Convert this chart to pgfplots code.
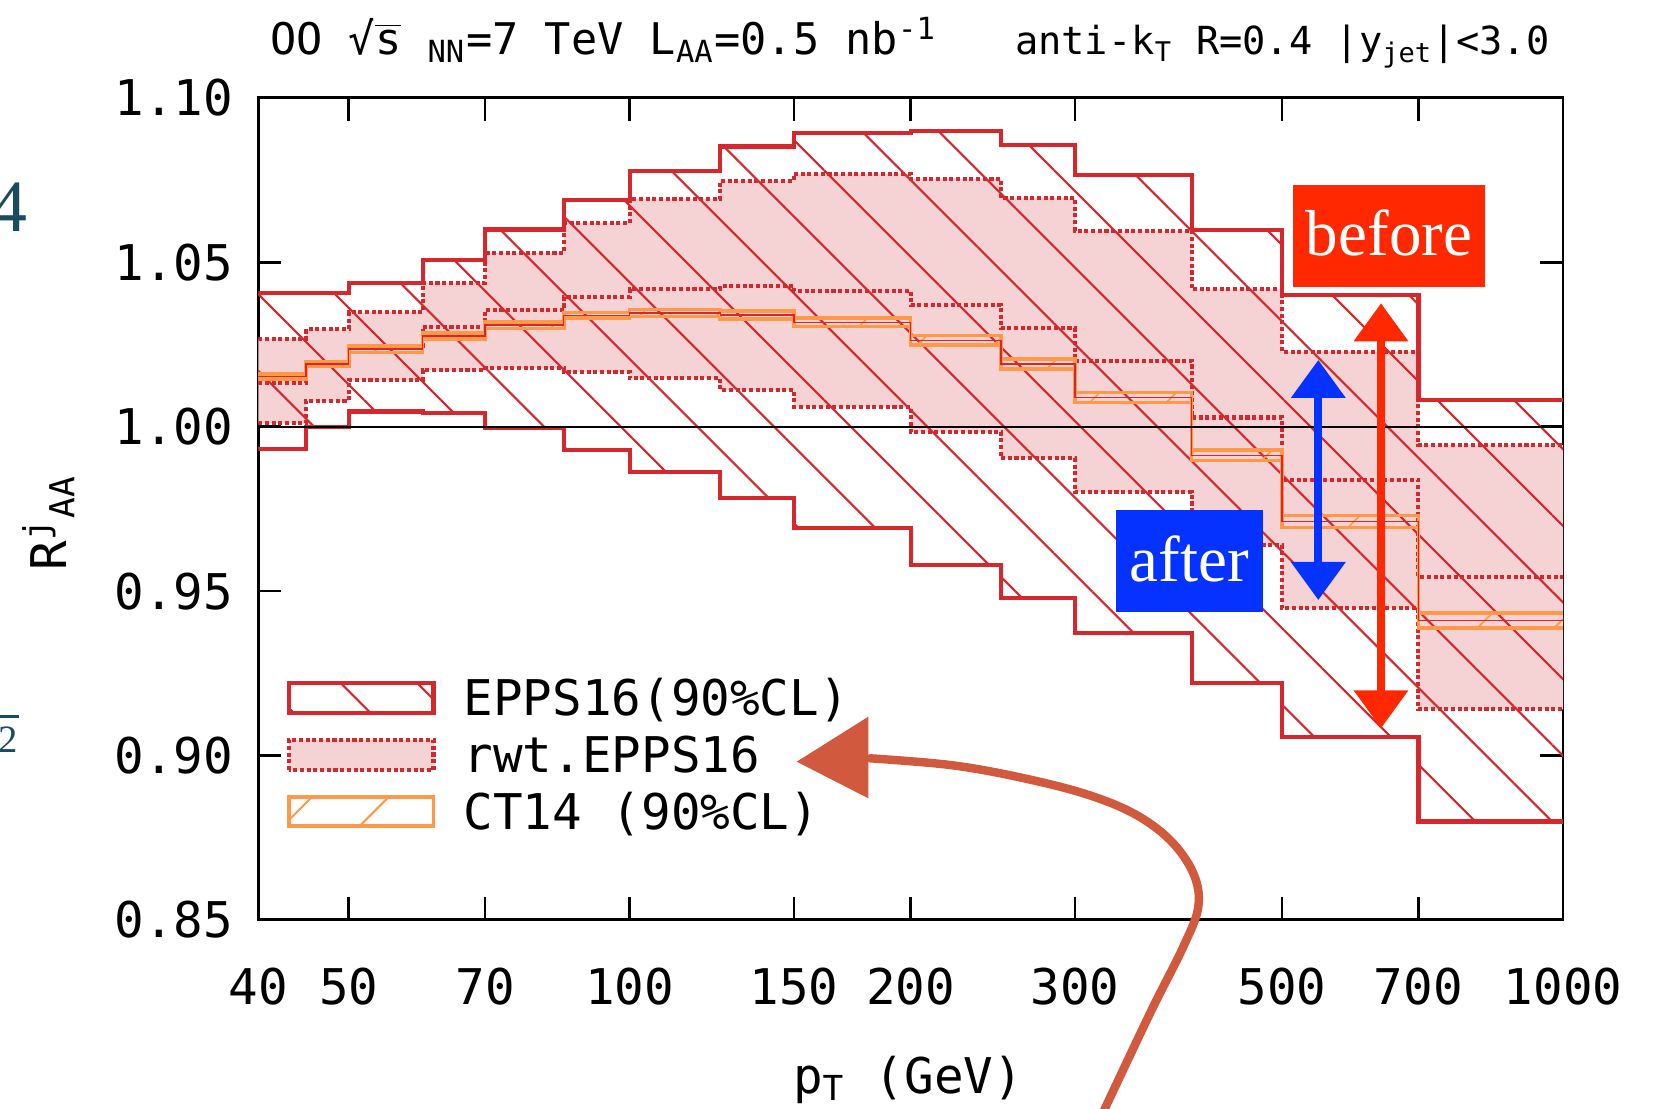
\documentclass[border=0pt]{standalone}
\usepackage{fontspec}
\setmainfont{DejaVu Sans Mono}
\newfontfamily\serifannot{Liberation Serif}
\usepackage{pgfplots}
\usepackage{pgfplotstable}
\pgfplotsset{compat=1.18}
\usepgfplotslibrary{fillbetween}
\usetikzlibrary{patterns.meta, arrows.meta}

\definecolor{eppsred}{RGB}{214,40,44}
\definecolor{rwtpink}{RGB}{245,211,213}
\definecolor{ctorange}{RGB}{255,153,72}
\definecolor{beforered}{RGB}{255,40,0}
\definecolor{afterblue}{RGB}{5,50,255}
\definecolor{brush}{RGB}{209,89,61}
\definecolor{slateteal}{RGB}{27,75,95}

% bin lower edges; last row repeats the last bin at the upper edge
\pgfplotstableread{
x    eu     el     ru     rc     rl     cu     cl     cc
40   1.0406 0.9931 1.0266 1.0134 1.0010 1.0161 1.0145 1.0153
45   1.0406 0.9998 1.0296 1.0188 1.0079 1.0198 1.0184 1.0191
50   1.0436 1.0046 1.0348 1.0245 1.0142 1.0246 1.0226 1.0236
60   1.0507 1.0041 1.0438 1.0304 1.0172 1.0285 1.0267 1.0276
70   1.0600 0.9995 1.0529 1.0355 1.0178 1.0319 1.0299 1.0309
85   1.0690 0.9929 1.0619 1.0395 1.0167 1.0348 1.0330 1.0339
100  1.0778 0.9862 1.0692 1.0418 1.0147 1.0357 1.0335 1.0346
125  1.0852 0.9782 1.0748 1.0428 1.0112 1.0352 1.0328 1.0340
150  1.0894 0.9693 1.0769 1.0414 1.0061 1.0331 1.0305 1.0318
200  1.0900 0.9579 1.0754 1.0370 0.9985 1.0277 1.0249 1.0263
250  1.0857 0.9478 1.0695 1.0299 0.9904 1.0206 1.0176 1.0191
300  1.0766 0.9372 1.0596 1.0201 0.9802 1.0104 1.0074 1.0089
400  1.0598 0.9220 1.0418 1.0028 0.9640 0.9929 0.9897 0.9913
500  1.0400 0.9057 1.0228 0.9838 0.9448 0.9730 0.9694 0.9712
700  1.0081 0.8799 0.9944 0.9544 0.9140 0.9433 0.9387 0.9410
1000 1.0081 0.8799 0.9944 0.9544 0.9140 0.9433 0.9387 0.9410
}\datatable

\begin{document}
\begin{tikzpicture}
\begin{axis}[
  at={(2.583cm,1.891cm)}, anchor=south west,
  scale only axis, width=13.047cm, height=8.22cm,
  xmode=log, xmin=40, xmax=1000, ymin=0.85, ymax=1.10,
  xtick={40,50,70,100,150,200,300,500,700,1000},
  xticklabels={40,50,70,100,150,200,300,500,700,1000},
  ytick={0.85,0.90,0.95,1.00,1.05,1.10},
  yticklabels={0.85,0.90,0.95,1.00,1.05,1.10},
  tick align=inside,
  major tick length=2.3mm,
  tick style={black, line width=0.8pt},
  axis line style={line width=0.8pt},
  tick label style={font=\fontsize{14}{16}\selectfont},
  yticklabel style={inner sep=0pt, xshift=-2.45mm},
  xticklabel style={inner sep=0pt, yshift=-4.7mm},
  /pgf/number format/assume math mode=true,
  xlabel={p\textsubscript{T} (GeV)},
  ylabel={R\textsuperscript{j}\textsubscript{AA}},
  label style={font=\fontsize{14}{16}\selectfont},
  xlabel style={at={(rel axis cs:0.498,-0.2106)}, anchor=base, inner sep=0pt},
  ylabel style={at={(rel axis cs:-0.1469,0.4835)}, anchor=base, inner sep=0pt},
]
% paths
\addplot[draw=none, const plot, name path=RU, forget plot] table[x=x,y=ru]{\datatable};
\addplot[draw=none, const plot, name path=RL, forget plot] table[x=x,y=rl]{\datatable};
\addplot[draw=none, const plot, name path=EU, forget plot] table[x=x,y=eu]{\datatable};
\addplot[draw=none, const plot, name path=EL, forget plot] table[x=x,y=el]{\datatable};
\addplot[draw=none, const plot, name path=CU, forget plot] table[x=x,y=cu]{\datatable};
\addplot[draw=none, const plot, name path=CL, forget plot] table[x=x,y=cl]{\datatable};
% rwt.EPPS16 fill
\addplot[fill=rwtpink, draw=none, forget plot] fill between[of=RU and RL];
% EPPS16 hatch
\addplot[draw=none, pattern={Lines[angle=-45,distance=5.42mm,line width=0.6pt]}, pattern color=eppsred, forget plot] fill between[of=EU and EL];
% EPPS16 outline
\addplot[eppsred, line width=1.2pt, const plot, forget plot] table[x=x,y=eu]{\datatable};
\addplot[eppsred, line width=1.2pt, const plot, forget plot] table[x=x,y=el]{\datatable};
% rwt dotted
\addplot[eppsred, line width=1.15pt, dash pattern=on 1.15pt off 0.75pt, const plot, forget plot] table[x=x,y=ru]{\datatable};
\addplot[eppsred, line width=1.15pt, dash pattern=on 1.15pt off 0.75pt, const plot, forget plot] table[x=x,y=rc]{\datatable};
\addplot[eppsred, line width=1.15pt, dash pattern=on 1.15pt off 0.75pt, const plot, forget plot] table[x=x,y=rl]{\datatable};
% CT14
\addplot[draw=none, pattern={Lines[angle=45,distance=5.42mm,line width=0.5pt]}, pattern color=ctorange, forget plot] fill between[of=CU and CL];
\addplot[ctorange, line width=1.0pt, const plot, forget plot] table[x=x,y=cu]{\datatable};
\addplot[ctorange, line width=1.0pt, const plot, forget plot] table[x=x,y=cl]{\datatable};
\addplot[eppsred, line width=0.35pt, const plot, forget plot] table[x=x,y=cc]{\datatable};
% unity line
\addplot[black, line width=0.6pt, forget plot] coordinates {(40,1) (1000,1)};
\end{axis}

% title
\node[anchor=base west, inner sep=0pt, font=\fontsize{12.4}{14}\selectfont] at (2.695,10.54)
  {OO √$\overline{\mbox{s}}$ \textsubscript{NN}=7 TeV L\textsubscript{AA}=0.5 nb\textsuperscript{-1}};
\node[anchor=base east, inner sep=0pt, font=\fontsize{11}{13}\selectfont] at (15.50,10.54)
  {anti-k\textsubscript{T} R=0.4 |y\textsubscript{jet}|<3.0};

% legend
\draw[eppsred, line width=1.2pt, pattern={Lines[angle=-45,distance=5.42mm,line width=0.6pt]}, pattern color=eppsred] (2.89,3.96) rectangle (4.335,4.26);
\draw[eppsred, line width=1.15pt, dash pattern=on 1.15pt off 0.75pt, fill=rwtpink] (2.89,3.39) rectangle (4.335,3.69);
\draw[ctorange, line width=0.9pt, pattern={Lines[angle=45,distance=5.42mm,line width=0.6pt]}, pattern color=ctorange] (2.89,2.83) rectangle (4.335,3.12);
\node[anchor=base west, inner sep=0pt, font=\fontsize{14}{16}\selectfont] at (4.63,3.93) {EPPS16(90\%CL)};
\node[anchor=base west, inner sep=0pt, font=\fontsize{14}{16}\selectfont] at (4.63,3.36) {rwt.EPPS16};
\node[anchor=base west, inner sep=0pt, font=\fontsize{14}{16}\selectfont] at (4.63,2.795) {CT14 (90\%CL)};

% before / after labels
\fill[beforered] (12.933,8.223) rectangle (14.85,9.24);
\node[anchor=base, inner sep=0pt, text=white, font=\serifannot\fontsize{18.5}{20}\selectfont] at (13.89,8.53) {before};
\fill[afterblue] (11.16,4.973) rectangle (12.627,5.99);
\node[anchor=base, inner sep=0pt, text=white, font=\serifannot\fontsize{18.5}{20}\selectfont] at (11.893,5.273) {after};

% double arrows
\draw[afterblue, line width=2.2pt, {Triangle[length=3.8mm,width=5.3mm]}-{Triangle[length=3.8mm,width=5.3mm]}] (13.183,5.09) -- (13.183,7.49);
\draw[beforered, line width=2.1pt, {Triangle[length=3.8mm,width=5.3mm]}-{Triangle[length=3.8mm,width=5.3mm]}] (13.81,3.807) -- (13.81,8.057);

% hand-drawn arrow
\draw[brush, line width=2.4pt, line cap=round] plot[smooth, tension=0.6] coordinates
  {(11.00,-0.1) (11.50,0.957) (11.833,1.623) (11.983,2.023) (11.933,2.357) (11.70,2.69) (11.333,2.957) (10.833,3.157) (10.167,3.323) (9.50,3.44) (8.70,3.507)};
\fill[brush] (7.967,3.473) -- (8.683,3.923) -- (8.683,3.107) -- cycle;

% slide fragments at the left edge
\node[anchor=base east, inner sep=0pt, text=slateteal, font=\serifannot\fontsize{21}{24}\selectfont] at (0.285,8.77) {4};
\node[anchor=base east, inner sep=0pt, text=slateteal, font=\serifannot\fontsize{11}{13}\selectfont] at (0.19,3.56) {2};
\draw[slateteal, line width=0.6pt] (0,3.925) -- (0.19,3.925);

\pgfresetboundingbox
\path[use as bounding box] (0,0) rectangle (16.57,11.09);
\end{tikzpicture}
\end{document}
